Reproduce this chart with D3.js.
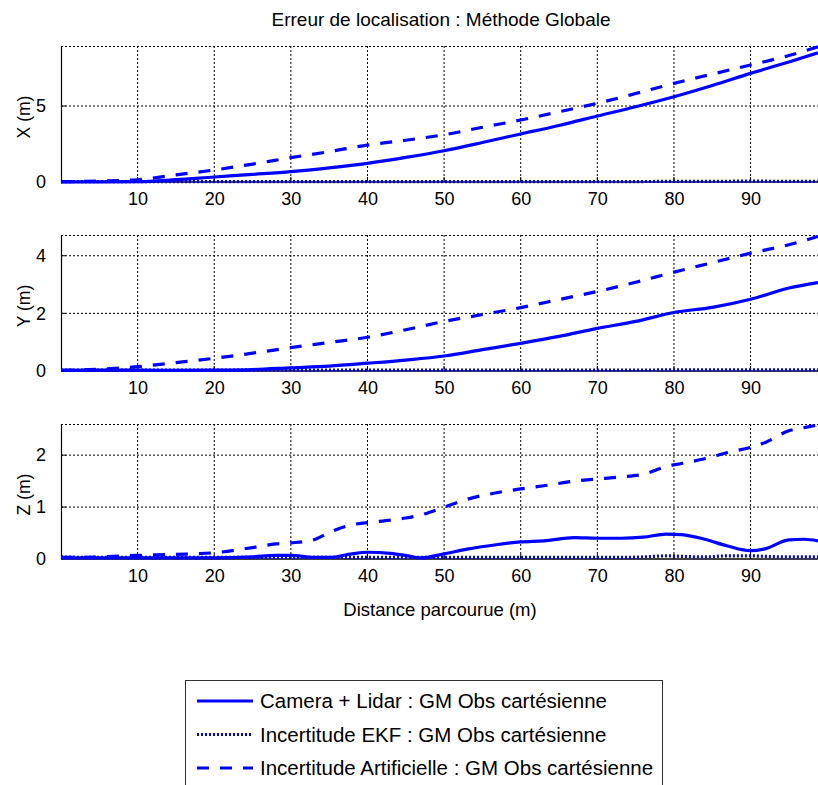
<!DOCTYPE html>
<html><head><meta charset="utf-8">
<script src="https://cdn.jsdelivr.net/npm/d3@7"></script>
<style>body{margin:0;background:#fff}svg{display:block;font-family:"Liberation Sans",Arial,sans-serif}</style>
</head><body><svg id="c" width="818" height="785"></svg>
<script>
const titleText = "Erreur de localisation : Méthode Globale";
const xLabelText = "Distance parcourue (m)";
const xTicks = [10,20,30,40,50,60,70,80,90];
const legendLabels = ["Camera + Lidar : GM Obs cartésienne","Incertitude EKF : GM Obs cartésienne","Incertitude Artificielle : GM Obs cartésienne"];

// X panel
const distXY = [0,5,10,15,20,25,30,35,40,45,50,55,60,65,70,75,80,85,90,95,98.8];
const xCam = [0,0.01,0.02,0.15,0.33,0.5,0.68,0.93,1.23,1.62,2.06,2.6,3.16,3.72,4.34,4.95,5.61,6.35,7.15,7.9,8.5];
const xEkf = [0.03,0.03,0.03,0.03,0.03,0.03,0.03,0.03,0.03,0.03,0.03,0.03,0.03,0.03,0.03,0.03,0.04,0.04,0.06,0.04,0.04];
const xArt = [0.02,0.06,0.15,0.47,0.79,1.18,1.6,2.0,2.43,2.75,3.11,3.6,4.08,4.62,5.18,5.82,6.49,7.1,7.7,8.32,8.9];
// Y panel
const yCam = [0.02,0.03,0.03,0.02,0.03,0.05,0.11,0.17,0.27,0.38,0.52,0.74,0.96,1.2,1.48,1.72,2.03,2.21,2.49,2.88,3.07];
const yEkf = [0.03,0.03,0.03,0.03,0.03,0.03,0.03,0.03,0.03,0.03,0.03,0.03,0.03,0.03,0.03,0.03,0.04,0.04,0.04,0.04,0.04];
const yArt = [0.02,0.06,0.15,0.29,0.44,0.62,0.81,0.99,1.17,1.43,1.72,1.96,2.2,2.48,2.76,3.08,3.43,3.76,4.09,4.38,4.67];
// Z panel
const distZ = [0,5,10,15,20,25,28,30,33,35,38,40,43,45,47,50,53,57,60,63,67,70,73,76,79,81,84,87,90,92,95,97,98.8];
const zCam = [0.02,0.02,0.02,0.02,0.02,0.04,0.07,0.07,0.03,0.03,0.10,0.13,0.11,0.07,0.02,0.10,0.19,0.28,0.33,0.35,0.41,0.40,0.40,0.42,0.48,0.47,0.38,0.25,0.16,0.20,0.37,0.38,0.35];
const zEkf = [0.04,0.03,0.03,0.03,0.03,0.03,0.03,0.03,0.03,0.03,0.03,0.03,0.03,0.03,0.03,0.03,0.03,0.03,0.03,0.03,0.03,0.03,0.03,0.04,0.06,0.05,0.04,0.06,0.06,0.05,0.04,0.04,0.04];
const zArt = [0.03,0.04,0.07,0.09,0.12,0.22,0.29,0.31,0.37,0.51,0.66,0.70,0.75,0.79,0.85,1.00,1.15,1.28,1.35,1.41,1.50,1.54,1.58,1.63,1.78,1.84,1.93,2.05,2.15,2.25,2.47,2.53,2.58];

const panels = [
  {label:"X (m)", dist:distXY, cam:xCam, ekf:xEkf, art:xArt, ymax:8.95, ticks:[0,5], top:46, bottom:182},
  {label:"Y (m)", dist:distXY, cam:yCam, ekf:yEkf, art:yArt, ymax:4.72, ticks:[0,2,4], top:235, bottom:371},
  {label:"Z (m)", dist:distZ, cam:zCam, ekf:zEkf, art:zArt, ymax:2.6, ticks:[0,1,2], top:424, bottom:559}
];

const svg = d3.select("#c");
const blue = "#0000ff";
const left = 61, right = 818;
const x = d3.scaleLinear().domain([0,98.8]).range([left,right]);
const styles = {
  cam:{dash:null},
  ekf:{dash:"2,2"},
  art:{dash:"12,11"}
};

svg.append("text").attr("x",441).attr("y",26).attr("text-anchor","middle").attr("font-size",19).text(titleText);

panels.forEach(p=>{
  const y = d3.scaleLinear().domain([0,p.ymax]).range([p.bottom,p.top]);
  const g = svg.append("g");
  // grid
  g.selectAll(".vg").data(xTicks).join("line")
    .attr("x1",d=>x(d)).attr("x2",d=>x(d)).attr("y1",p.top).attr("y2",p.bottom)
    .attr("stroke","#000").attr("stroke-width",1).attr("stroke-dasharray","2,2");
  g.selectAll(".hg").data(p.ticks.filter(t=>t>0)).join("line")
    .attr("x1",left).attr("x2",right).attr("y1",d=>y(d)).attr("y2",d=>y(d))
    .attr("stroke","#000").attr("stroke-width",1).attr("stroke-dasharray","2,2");
  // top border dotted
  g.append("line").attr("x1",left).attr("x2",right).attr("y1",p.top+0.5).attr("y2",p.top+0.5)
    .attr("stroke","#000").attr("stroke-dasharray","2,2");
  // axes
  const xa = g.append("g").attr("transform",`translate(0,${p.bottom})`)
    .call(d3.axisBottom(x).tickValues(xTicks).tickSize(0).tickPadding(10).tickFormat(d3.format("d")));
  xa.select(".domain").remove();
  xa.selectAll("text").attr("font-size",18).attr("fill","#000").attr("font-family","Liberation Sans, Arial, sans-serif");
  const ya = g.append("g").attr("transform",`translate(${left},0)`)
    .call(d3.axisLeft(y).tickValues(p.ticks).tickSize(0).tickPadding(15).tickFormat(d3.format("d")));
  ya.select(".domain").remove();
  ya.selectAll("text").attr("font-size",18).attr("fill","#000").attr("font-family","Liberation Sans, Arial, sans-serif");
  g.append("line").attr("x1",left).attr("x2",right).attr("y1",p.bottom).attr("y2",p.bottom).attr("stroke","#000").attr("stroke-width",1.5);
  g.append("line").attr("x1",left+0.5).attr("x2",left+0.5).attr("y1",p.top).attr("y2",p.bottom).attr("stroke","#000").attr("stroke-width",1.2);
  // inward ticks
  g.selectAll(".yt").data(p.ticks.filter(t=>t>0)).join("line")
    .attr("x1",left).attr("x2",left+5).attr("y1",d=>y(d)).attr("y2",d=>y(d)).attr("stroke","#000");
  g.selectAll(".xt").data(xTicks).join("line")
    .attr("x1",d=>x(d)).attr("x2",d=>x(d)).attr("y1",p.bottom).attr("y2",p.bottom-5).attr("stroke","#000");
  // y label
  g.append("text").attr("transform",`translate(30,${(p.top+p.bottom)/2+3}) rotate(-90)`)
    .attr("text-anchor","middle").attr("font-size",17.5).text(p.label);
  // series
  ["ekf","art","cam"].forEach(k=>{
    const line = d3.line().x((d,i)=>x(p.dist[i])).y(d=>y(d)).curve(d3.curveMonotoneX);
    g.append("path").attr("d",line(p[k])).attr("fill","none").attr("stroke",blue)
      .attr("stroke-width",3.2).attr("stroke-dasharray",styles[k].dash);
  });
});

svg.append("text").attr("x",440).attr("y",616).attr("text-anchor","middle").attr("font-size",18.5).text(xLabelText);

// legend
const lg = svg.append("g");
lg.append("rect").attr("x",185.5).attr("y",680.5).attr("width",477).attr("height",120).attr("fill","#fff").attr("stroke","#333").attr("stroke-width",1);
const keys = ["cam","ekf","art"];
legendLabels.forEach((t,i)=>{
  const yy = 701 + i*33.5;
  lg.append("line").attr("x1",197).attr("x2",253).attr("y1",yy).attr("y2",yy)
    .attr("stroke",blue).attr("stroke-width",3.2).attr("stroke-dasharray",styles[keys[i]].dash);
  lg.append("text").attr("x",260).attr("y",yy+7).attr("font-size",20.5).text(t);
});
</script></body></html>
